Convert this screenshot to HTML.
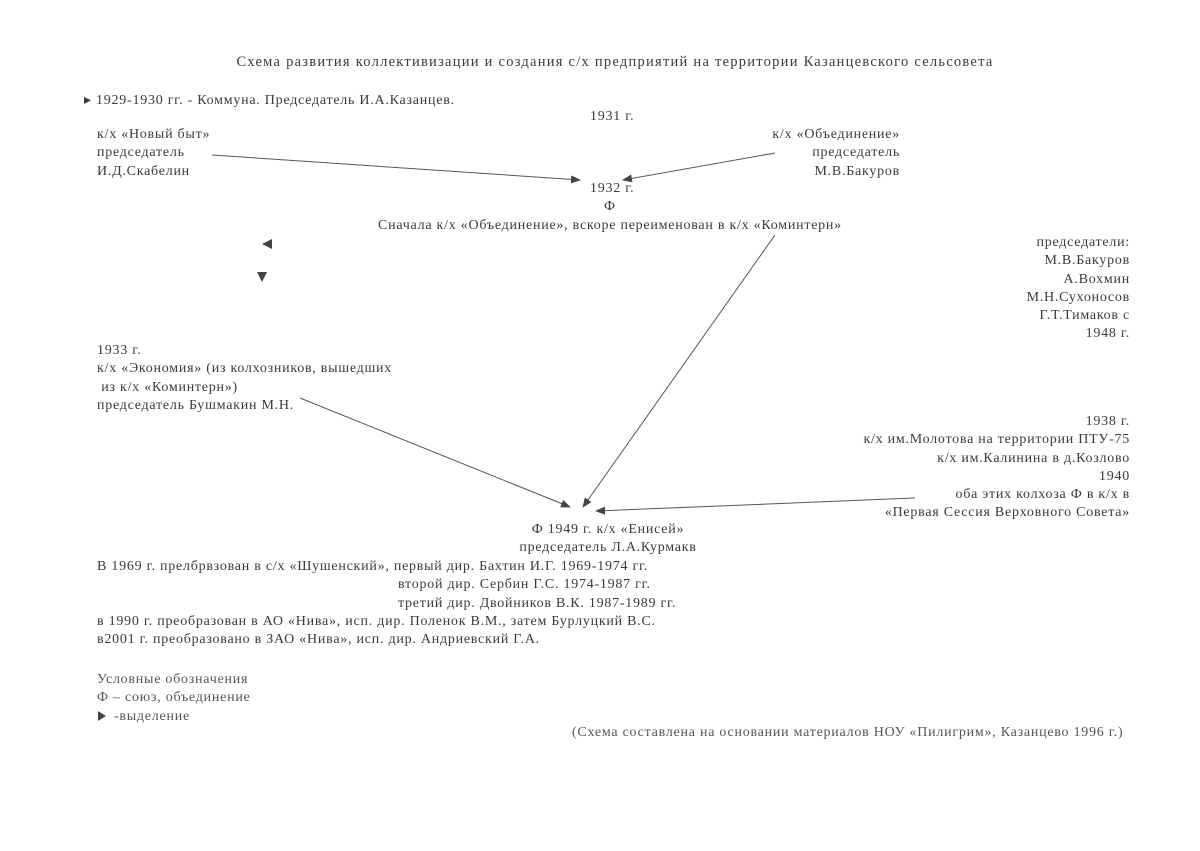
<!DOCTYPE html>
<html><head><meta charset="utf-8"><style>
body{margin:0;background:#fff;}
#c{position:relative;width:1200px;height:851px;overflow:hidden;background:#fff;font-family:"Liberation Serif",serif;font-size:14px;letter-spacing:0.75px;color:#3a3a3a;}
.t{position:absolute;white-space:nowrap;line-height:18.3px;}
.r{text-align:right;}
#w{position:absolute;left:0;top:1px;width:1200px;height:851px;}
</style></head><body><div id="c"><div id="w">
<div class="t" style="left:195px;top:52px;width:840px;text-align:center;font-size:14.5px;letter-spacing:1.25px">Схема развития коллективизации и создания с/х предприятий на территории Казанцевского сельсовета</div>
<div class="t" style="left:84px;top:91px">▸ 1929-1930 гг. - Коммуна. Председатель И.А.Казанцев.</div>
<div class="t" style="left:590px;top:107px">1931 г.</div>
<div class="t" style="left:97px;top:125px">к/х «Новый быт»<br>председатель<br>И.Д.Скабелин</div>
<div class="t r" style="right:300px;top:125px">к/х «Объединение»<br>председатель<br>М.В.Бакуров</div>
<div class="t" style="left:590px;top:179px">1932 г.</div>
<div class="t" style="left:604px;top:197px">Ф</div>
<div class="t" style="left:378px;top:216px">Сначала к/х «Объединение», вскоре переименован в к/х «Коминтерн»</div>
<div class="t r" style="right:70px;top:233px">председатели:<br>М.В.Бакуров<br>А.Вохмин<br>М.Н.Сухоносов<br>Г.Т.Тимаков с<br>1948 г.</div>
<div class="t" style="left:97px;top:341px">1933 г.<br>к/х «Экономия» (из колхозников, вышедших<br>&nbsp;из к/х «Коминтерн»)<br>председатель Бушмакин М.Н.</div>
<div class="t r" style="right:70px;top:412px">1938 г.<br>к/х им.Молотова на территории ПТУ-75<br>к/х им.Калинина в д.Козлово<br>1940<br>оба этих колхоза Ф в к/х в<br>«Первая Сессия Верховного Совета»</div>
<div class="t" style="left:478px;top:520px;width:260px;text-align:center">Ф 1949 г. к/х «Енисей»<br>председатель Л.А.Курмакв</div>
<div class="t" style="left:97px;top:557px">В 1969 г. прелбрвзован в с/х «Шушенский», первый дир. Бахтин И.Г. 1969-1974 гг.</div>
<div class="t" style="left:398px;top:575px">второй дир. Сербин Г.С. 1974-1987 гг.</div>
<div class="t" style="left:398px;top:594px">третий дир. Двойников В.К. 1987-1989 гг.</div>
<div class="t" style="left:97px;top:612px">в 1990 г. преобразован в АО «Нива», исп. дир. Поленок В.М., затем Бурлуцкий В.С.</div>
<div class="t" style="left:97px;top:630px">в2001 г. преобразовано в ЗАО «Нива», исп. дир. Андриевский Г.А.</div>
<div class="t" style="left:97px;top:670px;color:#555">Условные обозначения<br>Ф – союз, объединение<br>&nbsp;&nbsp;&nbsp;&nbsp;-выделение</div>
<div class="t" style="left:572px;top:723px;color:#555">(Схема составлена на основании материалов НОУ «Пилигрим», Казанцево 1996 г.)</div>
</div>
<svg width="1200" height="851" style="position:absolute;left:0;top:0">
<defs><marker id="a" markerWidth="10" markerHeight="8" refX="9" refY="4" orient="auto" markerUnits="userSpaceOnUse"><path d="M0,0 L10,4 L0,8 Z" fill="#444"/></marker></defs>
<g stroke="#555" stroke-width="1" fill="none" marker-end="url(#a)">
<line x1="212" y1="155" x2="580" y2="180"/>
<line x1="775" y1="153" x2="623" y2="180"/>
<line x1="775" y1="235" x2="583" y2="507"/>
<line x1="300" y1="398" x2="570" y2="507"/>
<line x1="915" y1="498" x2="596" y2="511"/>
</g>
<path d="M272,239 L262,244 L272,249 Z" fill="#444"/>
<path d="M257,272 L267,272 L262,282 Z" fill="#444"/>
<path d="M98,711 L106,716 L98,721 Z" fill="#444"/>
</svg>
</div></body></html>
